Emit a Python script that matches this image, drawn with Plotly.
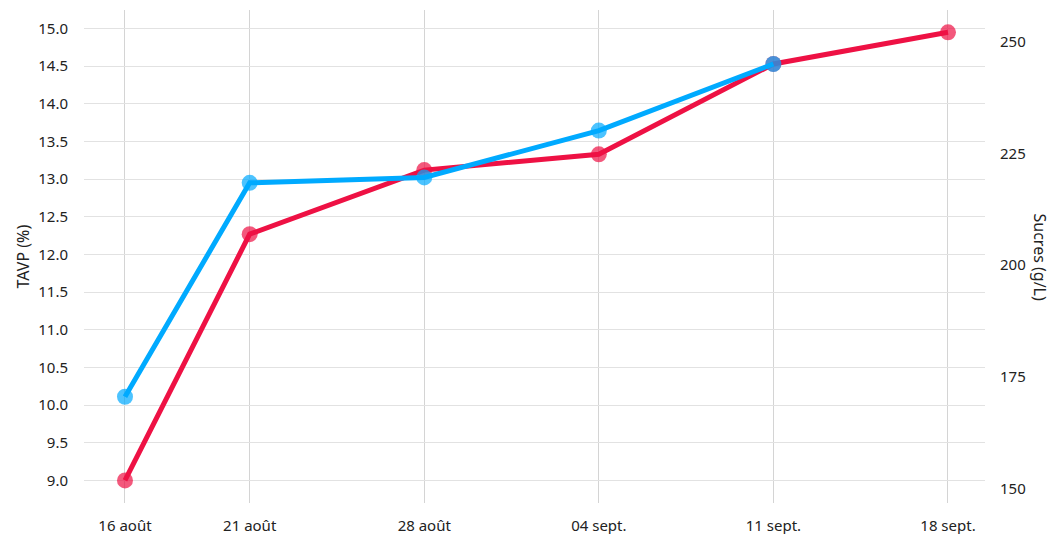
import plotly.graph_objects as go

dates = ["2023-08-16", "2023-08-21", "2023-08-28", "2023-09-04", "2023-09-11", "2023-09-18"]
tick_labels = ["16 août", "21 août", "28 août", "04 sept.", "11 sept.", "18 sept."]
tavp = [9.0, 12.27, 13.12, 13.33, 14.53, 14.95]
sucres_dates = dates[:5]
sucres = [170.5, 218.4, 219.6, 230.1, 245.0]

RED = "#EE1144"
BLUE = "#00AAFF"
FONT = "Noto Sans"

fig = go.Figure()
fig.add_trace(go.Scatter(
    x=dates, y=tavp, name="TAVP (%)", mode="lines+markers",
    line=dict(color=RED, width=5),
    marker=dict(size=16, color=RED, opacity=0.7),
    yaxis="y",
))
fig.add_trace(go.Scatter(
    x=sucres_dates, y=sucres, name="Sucres (g/L)", mode="lines+markers",
    line=dict(color=BLUE, width=5),
    marker=dict(size=16, color=BLUE, opacity=0.7),
    yaxis="y2",
))

W, H = 1052, 534
L, R, T, B = 84, 67, 10, 31
pw = W - L - R

fig.update_layout(
    width=W, height=H,
    margin=dict(l=L, r=R, t=T, b=B),
    paper_bgcolor="white", plot_bgcolor="white",
    showlegend=False,
    font=dict(family=FONT, size=15, color="#222222"),
    xaxis=dict(
        type="date",
        range=["2023-08-14 08:33", "2023-09-19 11:37"],
        tickmode="array", tickvals=dates, ticktext=tick_labels,
        showgrid=True, gridcolor="#d4d4d4", gridwidth=1,
        zeroline=False, showline=False,
        ticklabelstandoff=12, automargin=False,
    ),
    yaxis=dict(
        range=[8.70, 15.246],
        tickmode="linear", tick0=9, dtick=0.5, tickformat=".1f",
        showgrid=True, gridcolor="#e2e2e2", gridwidth=1,
        zeroline=False, showline=False,
        ticklabelstandoff=15, automargin=False,
    ),
    yaxis2=dict(
        overlaying="y", side="right",
        range=[146.7, 257.1],
        tickmode="linear", tick0=150, dtick=25,
        showgrid=False, zeroline=False, showline=False,
        ticklabelstandoff=14, automargin=False,
    ),
    annotations=[
        dict(text="TAVP (%)", x=(22 - L) / pw, y=0.5, xref="paper", yref="paper",
             xanchor="center", yanchor="middle",
             showarrow=False, textangle=-90, font=dict(size=16)),
        dict(text="Sucres (g/L)", x=(1040 - L) / pw, y=0.5, xref="paper", yref="paper",
             xanchor="center", yanchor="middle",
             showarrow=False, textangle=90, font=dict(size=16)),
    ],
)

fig.write_html(
    "out.html",
    config={"displayModeBar": False},
    post_script="document.body.style.margin='0';document.body.style.overflow='hidden';",
)
